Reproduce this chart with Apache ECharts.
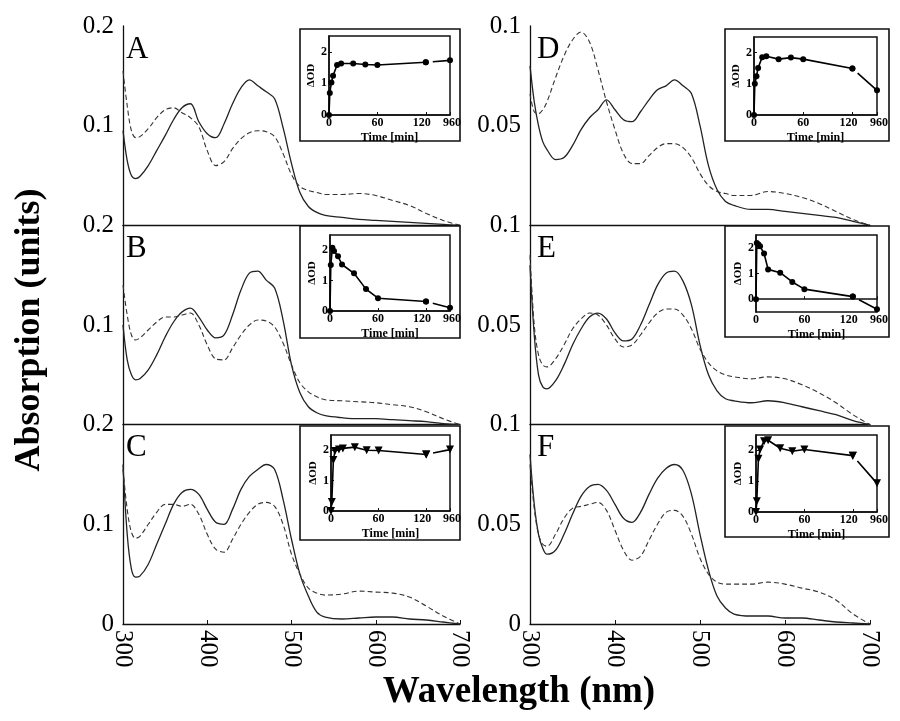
<!DOCTYPE html>
<html><head><meta charset="utf-8">
<script src="https://cdn.jsdelivr.net/npm/echarts@6/dist/echarts.min.js"></script>
<style>html,body{margin:0;padding:0;background:#fff}#c{width:900px;height:721px}</style>
</head><body><div id="c"></div>
<script>
// ---------- DATA ----------
const wavelengths = [300,305,310,315,320,330,340,350,360,370,380,390,400,410,420,430,440,450,460,470,480,490,500,510,520,530,540,560,580,600,620,640,660,680,700];

const specA_solid  = [0.095,0.065,0.050,0.047,0.049,0.060,0.075,0.090,0.106,0.118,0.122,0.104,0.092,0.088,0.102,0.122,0.138,0.146,0.140,0.134,0.127,0.098,0.062,0.033,0.019,0.013,0.010,0.008,0.006,0.005,0.004,0.003,0.002,0.001,0];
const specA_dashed = [0.155,0.120,0.095,0.088,0.089,0.097,0.108,0.116,0.118,0.113,0.108,0.099,0.075,0.060,0.064,0.077,0.087,0.093,0.095,0.094,0.089,0.072,0.051,0.039,0.035,0.033,0.031,0.031,0.032,0.030,0.025,0.020,0.012,0.005,0];
const specB_solid  = [0.100,0.065,0.050,0.045,0.046,0.055,0.070,0.088,0.103,0.113,0.117,0.108,0.095,0.087,0.090,0.110,0.135,0.152,0.154,0.145,0.137,0.105,0.060,0.032,0.018,0.012,0.009,0.007,0.006,0.006,0.005,0.004,0.003,0.001,0];
const specB_dashed = [0.140,0.110,0.090,0.085,0.087,0.095,0.103,0.108,0.108,0.110,0.112,0.100,0.080,0.066,0.065,0.077,0.090,0.100,0.105,0.104,0.098,0.082,0.060,0.042,0.033,0.028,0.025,0.024,0.023,0.022,0.020,0.018,0.013,0.006,0];
const specC_solid  = [0.160,0.090,0.055,0.047,0.048,0.060,0.080,0.100,0.120,0.132,0.135,0.130,0.115,0.102,0.100,0.115,0.135,0.148,0.155,0.160,0.155,0.125,0.085,0.050,0.028,0.012,0.007,0.005,0.006,0.007,0.007,0.005,0.004,0.002,0];
const specC_dashed = [0.155,0.115,0.092,0.086,0.088,0.100,0.112,0.120,0.120,0.118,0.120,0.110,0.090,0.075,0.072,0.085,0.100,0.112,0.120,0.122,0.118,0.100,0.070,0.050,0.036,0.031,0.029,0.030,0.033,0.032,0.031,0.027,0.018,0.008,0];
const specD_solid  = [0.080,0.062,0.050,0.042,0.038,0.033,0.034,0.040,0.048,0.054,0.058,0.063,0.058,0.053,0.052,0.057,0.063,0.068,0.070,0.073,0.070,0.066,0.050,0.030,0.018,0.012,0.010,0.008,0.008,0.007,0.006,0.005,0.004,0.002,0];
const specD_dashed = [0.066,0.057,0.056,0.058,0.062,0.074,0.085,0.093,0.097,0.092,0.078,0.062,0.048,0.036,0.031,0.031,0.035,0.039,0.041,0.041,0.039,0.034,0.026,0.020,0.017,0.016,0.015,0.015,0.017,0.016,0.014,0.011,0.007,0.003,0];
const specE_solid  = [0.080,0.045,0.025,0.019,0.018,0.022,0.030,0.040,0.048,0.054,0.056,0.053,0.046,0.042,0.043,0.050,0.060,0.070,0.076,0.077,0.072,0.060,0.040,0.025,0.017,0.013,0.012,0.011,0.012,0.011,0.009,0.007,0.005,0.002,0];
const specE_dashed = [0.085,0.050,0.035,0.030,0.029,0.033,0.040,0.048,0.053,0.056,0.055,0.050,0.043,0.039,0.040,0.045,0.051,0.056,0.058,0.058,0.055,0.048,0.038,0.031,0.027,0.025,0.024,0.023,0.024,0.023,0.020,0.016,0.011,0.005,0];
const specF_solid  = [0.085,0.060,0.045,0.038,0.035,0.037,0.045,0.055,0.064,0.069,0.070,0.067,0.060,0.053,0.051,0.056,0.065,0.073,0.078,0.080,0.077,0.065,0.045,0.027,0.014,0.008,0.005,0.004,0.004,0.003,0.003,0.002,0.001,0.0005,0];
const specF_dashed = [0.080,0.058,0.045,0.040,0.039,0.045,0.053,0.058,0.059,0.060,0.061,0.057,0.047,0.037,0.032,0.034,0.042,0.050,0.056,0.057,0.054,0.045,0.033,0.025,0.021,0.020,0.020,0.020,0.021,0.020,0.018,0.016,0.012,0.005,0];

const insetTimes = [0,1,3,5,10,15,30,45,60,120,960];
const insetA = [0,0.70,1.03,1.24,1.58,1.63,1.63,1.60,1.58,1.67,1.73];
const insetB = [0,1.51,2.08,1.97,1.80,1.53,1.24,0.72,0.42,0.31,0.11];
const insetC = [0,0.30,1.68,1.97,2.02,2.06,2.10,2.00,1.99,1.86,2.02];
const insetD = [0,1.00,1.24,1.51,1.85,1.88,1.79,1.84,1.79,1.49,0.79];
const insetE = [0,2.19,2.13,2.06,1.78,1.16,1.03,0.67,0.39,0.10,-0.39];
const insetF = [0,0.35,1.73,2.03,2.30,2.33,2.07,1.97,2.03,1.83,0.93];

const insetXTicks = [0,60,120,960];
const insetYTicks = [0,1,2];
const panelLetters = ['A','B','C','D','E','F'];
const leftYTicks = [0,0.1,0.2];
const rightYTicks = [0,0.05,0.1];

// ---------- LAYOUT ----------
const FONT = 'Liberation Serif';
const colLeft = [123, 530];
const colWidth = [337, 340];
const rowTop = [26, 225.3, 424.6];
const rowH = 199.4;
const insetOuter = [[300,29,160,112],[300,226,160,112],[300,426,160,114],[725,29,164,112],[725,226,164,111],[725,426,164,111]];
const insetInner = [[329,36,121,79],[330,235,120,76],[331,435,119,76],[754,37,123,78],[756,235,121,77],[756,435,121,77]];
const insetYRange = [[0,2.5],[0,2.5],[0,2.5],[0,2.5],[-0.5,2.5],[0,2.5]];
const insetSymbol = ['circle','circle','triangle','circle','circle','triangle'];

// broken time axis: 0-120 linear, 120-960 compressed into 30 units
function tPos(t){ return t <= 120 ? t : 120 + (t - 120) * 30 / 840; }

const spectra = [
  [specA_solid, specA_dashed],[specB_solid, specB_dashed],[specC_solid, specC_dashed],
  [specD_solid, specD_dashed],[specE_solid, specE_dashed],[specF_solid, specF_dashed]
];
const insets = [insetA, insetB, insetC, insetD, insetE, insetF];

const grid = [], xAxis = [], yAxis = [], series = [], graphic = [];

for (let p = 0; p < 6; p++) {
  const col = p < 3 ? 0 : 1, row = p % 3;
  grid.push({left: colLeft[col], top: rowTop[row], width: colWidth[col], height: rowH, containLabel: false});
  const isBottom = row === 2;
  xAxis.push({
    type: 'value', gridIndex: p, min: 300, max: 700, interval: 100,
    axisLine: {show: true, lineStyle: {color: '#111', width: 1.3}},
    axisTick: {show: isBottom, inside: true, length: 4, lineStyle: {color: '#111'}},
    axisLabel: {show: isBottom, rotate: -90, fontFamily: FONT, fontSize: 25, color: '#000', margin: 6},
    splitLine: {show: false}
  });
  const yt = col === 0 ? leftYTicks : rightYTicks;
  yAxis.push({
    type: 'value', gridIndex: p, min: yt[0], max: yt[2], interval: yt[1],
    axisLine: {show: true, lineStyle: {color: '#111', width: 1.3}},
    axisTick: {show: false},
    axisLabel: {show: true, showMinLabel: isBottom, fontFamily: FONT, fontSize: 25, color: '#000', margin: 9},
    splitLine: {show: false}
  });
  const [sol, dsh] = spectra[p];
  series.push({type: 'line', xAxisIndex: p, yAxisIndex: p, smooth: 0.35, symbol: 'none',
    data: wavelengths.map((w, i) => [w, sol[i]]), lineStyle: {color: '#222', width: 1.3}});
  series.push({type: 'line', xAxisIndex: p, yAxisIndex: p, smooth: 0.35, symbol: 'none',
    data: wavelengths.map((w, i) => [w, dsh[i]]), lineStyle: {color: '#333', width: 1.1, type: [5, 3]}});

  graphic.push({type: 'text', left: colLeft[col] + (col === 0 ? 3 : 7), top: rowTop[row] + 8, z: 5,
    style: {text: panelLetters[p], font: '31px "' + FONT + '"', fill: '#000'}});
}

// insets
for (let p = 0; p < 6; p++) {
  const o = insetOuter[p], inn = insetInner[p];
  graphic.push({type: 'rect', shape: {x: o[0], y: o[1], width: o[2], height: o[3]}, z: 50,
    style: {fill: '#fff', stroke: '#111', lineWidth: 1.6}});
  const gi = 6 + p;
  grid.push({left: inn[0], top: inn[1], width: inn[2], height: inn[3], show: true, borderColor: '#111', borderWidth: 1.5, z: 60});
  xAxis.push({
    type: 'value', gridIndex: gi, min: 0, max: 150, z: 60,
    axisLine: {show: true, lineStyle: {color: '#111', width: 1.5}},
    axisTick: {show: true, inside: true, length: 3, customValues: insetXTicks.map(tPos), lineStyle: {color: '#111'}},
    axisLabel: {show: true, customValues: insetXTicks.map(tPos), margin: 2, fontFamily: FONT, fontWeight: 'bold', fontSize: 12, color: '#000',
      formatter: v => {
        const idx = insetXTicks.map(tPos).indexOf(v);
        const t = idx >= 0 ? insetXTicks[idx] : v;
        if (t === 120) return '{l|' + t + '}';
        if (t === 960) return '{r|' + t + '}';
        return String(t);
      },
      rich: {l: {padding: [0, 8, 0, 0], fontFamily: FONT, fontWeight: 'bold', fontSize: 12}, r: {padding: [0, 0, 0, 4], fontFamily: FONT, fontWeight: 'bold', fontSize: 12}}
    },
    splitLine: {show: false},
    name: 'Time [min]', nameLocation: 'middle', nameGap: 17,
    nameTextStyle: {fontFamily: FONT, fontWeight: 'bold', fontSize: 12, color: '#000'}
  });
  yAxis.push({
    type: 'value', gridIndex: gi, min: insetYRange[p][0], max: insetYRange[p][1], z: 60,
    axisLine: {show: true, onZero: false, lineStyle: {color: '#111', width: 1.5}},
    axisTick: {show: true, inside: true, length: 3, customValues: insetYTicks, lineStyle: {color: '#111'}},
    axisLabel: {show: true, customValues: insetYTicks, margin: 2, fontFamily: FONT, fontWeight: 'bold', fontSize: 12, color: '#000'},
    splitLine: {show: false},
    name: 'ΔOD', nameLocation: 'middle', nameGap: 11, nameRotate: 90,
    nameTextStyle: {fontFamily: FONT, fontWeight: 'bold', fontSize: 11, color: '#000'}
  });
  const vals = insets[p];
  const pts = insetTimes.map((t, i) => [tPos(t), vals[i]]);
  const sym = insetSymbol[p];
  const symRot = sym === 'triangle' ? 180 : 0;
  const symSize = sym === 'triangle' ? 8 : 6;
  series.push({type: 'line', xAxisIndex: gi, yAxisIndex: gi, z: 62, data: pts.slice(0, insetTimes.length - 1),
    symbol: sym, symbolRotate: symRot, symbolSize: symSize, showAllSymbol: true,
    itemStyle: {color: '#000'}, lineStyle: {color: '#000', width: 1.6}});
  series.push({type: 'line', xAxisIndex: gi, yAxisIndex: gi, z: 62, data: pts.slice(insetTimes.length - 2),
    symbol: sym, symbolRotate: symRot, symbolSize: symSize, showAllSymbol: true,
    itemStyle: {color: '#000'}, lineStyle: {color: '#000', width: 1.6, type: [0, 7, 200]}});
}

// axis titles
graphic.push({type: 'text', x: 30, y: 330, rotation: Math.PI / 2, z: 5,
  style: {text: 'Absorption (units)', font: 'bold 36px "' + FONT + '"', fill: '#000', align: 'center', verticalAlign: 'middle'}});
graphic.push({type: 'text', x: 519, y: 692, z: 5,
  style: {text: 'Wavelength (nm)', font: 'bold 37px "' + FONT + '"', fill: '#000', align: 'center', verticalAlign: 'middle'}});

const chart = echarts.init(document.getElementById('c'), null, {renderer: 'canvas'});
chart.setOption({animation: false, backgroundColor: '#fff', grid, xAxis, yAxis, series, graphic});
</script></body></html>
